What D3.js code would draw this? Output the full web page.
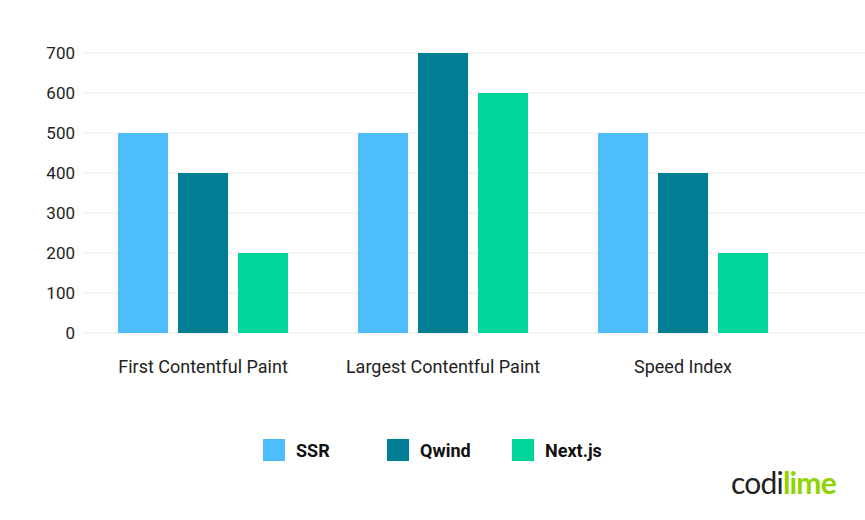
<!DOCTYPE html>
<html><head><meta charset="utf-8">
<script src="https://cdn.jsdelivr.net/npm/d3@7"></script>
<style>body{margin:0;background:#fff;}svg{display:block;font-family:Roboto,sans-serif;}</style>
</head><body><svg id="c" width="865" height="520"></svg>
<script>
const categories = ["First Contentful Paint", "Largest Contentful Paint", "Speed Index"];
const seriesNames = ["SSR", "Qwind", "Next.js"];
const ssr = [500, 500, 500];
const qwind = [400, 700, 400];
const nextjs = [200, 600, 200];
const yTicks = [0, 100, 200, 300, 400, 500, 600, 700];
const colors = ["#4dbdfb", "#007f94", "#00d59b"];

const series = [ssr, qwind, nextjs];
const svg = d3.select("#c");
const x = d3.scaleBand().domain(categories).range([83, 803]).paddingInner(0).paddingOuter(0);
const xs = d3.scaleBand().domain(seriesNames).range([35, 205]).paddingInner(1/6).paddingOuter(0);
const y = d3.scaleLinear().domain([0, 700]).range([333, 53]);

// grid
svg.append("g").selectAll("line").data(yTicks).join("line")
  .attr("x1", 83).attr("x2", 865).attr("y1", d => y(d)).attr("y2", d => y(d))
  .attr("stroke", "#ebebeb").attr("stroke-width", 1);

const yAxis = svg.append("g").attr("transform", "translate(83,0)")
  .call(d3.axisLeft(y).tickValues(yTicks).tickSize(0).tickPadding(8));
yAxis.select(".domain").remove();
yAxis.selectAll("text").attr("font-size", 17).attr("fill", "#222").attr("font-family", "Roboto");

const g = svg.append("g").selectAll("g").data(categories).join("g")
  .attr("transform", d => `translate(${x(d)},0)`);
g.selectAll("rect").data((d, i) => series.map((s, j) => ({name: seriesNames[j], v: s[i], c: colors[j]})))
  .join("rect")
  .attr("x", d => xs(d.name)).attr("width", xs.bandwidth())
  .attr("y", d => y(d.v)).attr("height", d => y(0) - y(d.v))
  .attr("fill", d => d.c);

const xAxis = svg.append("g").attr("transform", "translate(0,333)")
  .call(d3.axisBottom(x).tickSize(0).tickPadding(27));
xAxis.select(".domain").remove();
xAxis.selectAll("text").attr("font-size", 18).attr("fill", "#222").attr("font-family", "Roboto");

// legend
const legX = [263, 387, 512];
const leg = svg.append("g").selectAll("g").data(seriesNames).join("g")
  .attr("transform", (d, i) => `translate(${legX[i]},439)`);
leg.append("rect").attr("width", 22).attr("height", 22).attr("fill", (d, i) => colors[i]);
leg.append("text").attr("x", 33).attr("y", 18).text(d => d)
  .attr("font-size", 18).attr("font-weight", "bold").attr("fill", "#111");

// logo
const logo = svg.append("text").attr("x", 731).attr("y", 494)
  .attr("font-size", 30).attr("font-family", "Lato, sans-serif").attr("letter-spacing", -0.8);
logo.append("tspan").text("codi").attr("fill", "#222");
logo.append("tspan").text("lime").attr("fill", "#8fd400").attr("font-weight", "bold");
</script></body></html>
